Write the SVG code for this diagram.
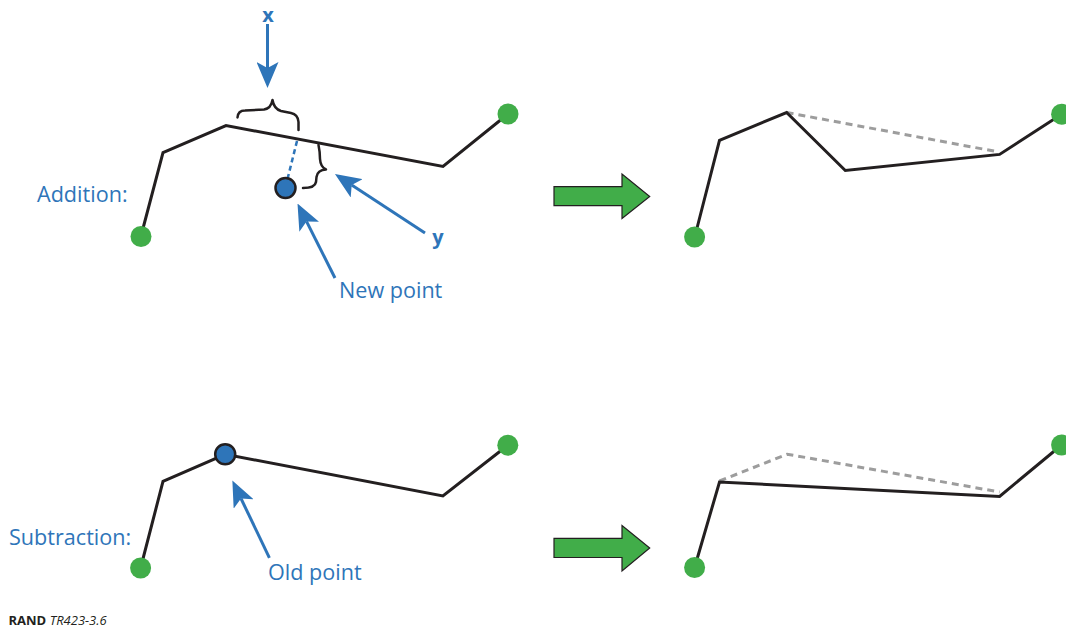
<svg xmlns="http://www.w3.org/2000/svg" width="1066" height="629" viewBox="0 0 1066 629">
<style>
.poly{fill:none;stroke:#231f20;stroke-width:3;stroke-linejoin:miter}
.dash{fill:none;stroke:#9d9d9d;stroke-width:3;stroke-dasharray:7 5}
.green{fill:#41ad49}
.blue{fill:#2e75b9;stroke:#231f20;stroke-width:2.5}
.brace{fill:none;stroke:#231f20;stroke-width:2.5;stroke-linecap:round;stroke-linejoin:round}
.arrow{fill:none;stroke:#2e75b9;stroke-width:3;marker-end:url(#ah)}
.lbl{font-family:"Open Sans","Liberation Sans",sans-serif;font-size:21.6px;fill:#2e75b9}
.var{font-family:"Open Sans","Liberation Sans",sans-serif;font-size:20px;font-weight:bold;fill:#2e75b9;text-anchor:middle}
.big{fill:#41ad49;stroke:#231f20;stroke-width:1.2}
.foot{font-family:"Open Sans","Liberation Sans",sans-serif;font-size:13px;fill:#231f20}
</style>
<defs>
<marker id="ah" viewBox="0 -11 26 22" refX="6" refY="0" markerWidth="26" markerHeight="22" markerUnits="userSpaceOnUse" orient="auto">
<path d="M0,-11 L26,0 L0,11 L6,0 Z" fill="#2e75b9"/>
</marker>
</defs>

<g id="connectors">
<line class="arrow" x1="267.5" y1="24" x2="267.5" y2="68"/>
<line class="arrow" x1="425" y1="233" x2="351.7" y2="185"/>
<line class="arrow" x1="335" y1="278" x2="306.5" y2="221.4"/>
<line class="arrow" x1="269.4" y1="557.8" x2="241" y2="498.5"/>
</g>

<g id="addition-before">
<polyline class="poly" points="141,236 163,152.5 226,125.5 443,166.5 508,114"/>
<line x1="297" y1="141" x2="287.5" y2="179" stroke="#2e75b9" stroke-width="2.5" stroke-dasharray="5 3.5"/>
<path class="brace" d="M237.5,117.5 Q238,110.5 245,110.5 L264,109.5 Q271,108.5 272.5,100 Q274,109 281,111 L291,113 Q298,114.5 298.5,122 L298.5,130"/>
<path class="brace" d="M318.5,145 Q320,152 320,159 Q320.5,167 326,169.5 Q317.5,170 316.5,177 L316,182 Q315,188 303,188"/>
<circle class="green" cx="141" cy="236.5" r="10.5"/>
<circle class="green" cx="508" cy="114" r="10.5"/>
<circle class="blue" cx="285.5" cy="188" r="10"/>
</g>

<g id="labels">
<text class="lbl" x="37" y="201.5">Addition:</text>
<text class="var" x="268" y="21.5">x</text>
<text class="var" x="438" y="244">y</text>
<text class="lbl" x="339" y="298">New point</text>
<text class="lbl" x="9" y="544.5">Subtraction:</text>
<text class="lbl" x="268" y="580">Old point</text>
</g>

<g id="arrow-top">
<path class="big" d="M554,186.6 L622,186.6 L622,174 L649.7,196.5 L622,218.5 L622,205.7 L554,205.7 Z"/>
</g>

<g id="addition-after">
<line class="dash" x1="786.6" y1="112.5" x2="999" y2="152"/>
<polyline class="poly" points="694.6,237.5 719.5,140.3 786.6,112.5 845.3,170.5 999.6,154.4 1061.6,114.2"/>
<circle class="green" cx="694.6" cy="237" r="10.5"/>
<circle class="green" cx="1061.6" cy="114.2" r="10.5"/>
</g>

<g id="subtraction-before">
<polyline class="poly" points="140.6,568 163,481.4 225.2,454.3 442.9,496 507.8,445.2"/>
<circle class="green" cx="140.6" cy="568" r="10.5"/>
<circle class="green" cx="507.8" cy="445.2" r="10.5"/>
<circle class="blue" cx="225.2" cy="454.3" r="10"/>
</g>

<g id="arrow-bottom">
<path class="big" d="M554,538.4 L622,538.4 L622,525.6 L649.7,548 L622,570.9 L622,557.5 L554,557.5 Z"/>
</g>

<g id="subtraction-after">
<polyline class="dash" points="719.5,481 787.2,454.2 999.6,492"/>
<polyline class="poly" points="694.6,567.5 719.5,482 999.6,496.4 1061.6,445"/>
<circle class="green" cx="694.6" cy="567.5" r="10.5"/>
<circle class="green" cx="1061.6" cy="445" r="10.5"/>
</g>

<g id="footer">
<text class="foot" x="8.5" y="625"><tspan font-weight="bold">RAND</tspan> <tspan font-style="italic">TR423-3.6</tspan></text>
</g>
</svg>
